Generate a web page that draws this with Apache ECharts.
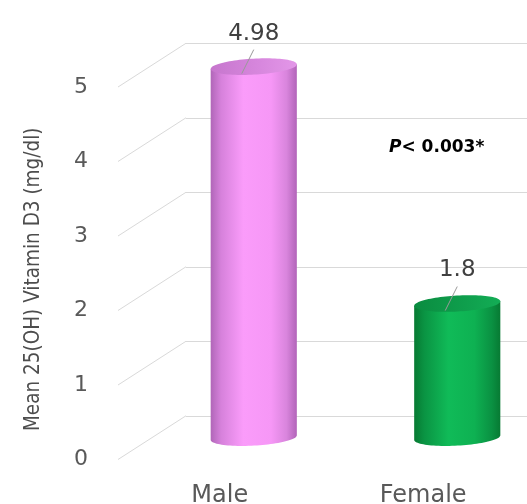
<!DOCTYPE html>
<html>
<head>
<meta charset="utf-8">
<script src="https://cdn.jsdelivr.net/npm/echarts@6/dist/echarts.min.js"></script>
<style>
  html, body { margin: 0; padding: 0; background: #ffffff; }
  #chart { width: 527px; height: 504px; }
</style>
</head>
<body>
<div id="chart"></div>
<script>
// Mean serum 25(OH) vitamin D3 by sex
const categories = ['Male', 'Female'];
const meanValues = [4.98, 1.8];
const yTicks = [0, 1, 2, 3, 4, 5];
const pValueText = '< 0.003*';

// Cylinder shading per category (left edge -> right edge)
const bodyStops = [
  [['#b066b8', 0], ['#d681db', 0.12], ['#fa9cfa', 0.38], ['#f697f6', 0.7], ['#d985dd', 0.88], ['#b264b9', 1]],
  [['#077a33', 0], ['#0a9443', 0.12], ['#10bb58', 0.4], ['#0eb152', 0.7], ['#0a9142', 0.9], ['#077a33', 1]]
];
const topStops = [
  [['#c676cd', 0], ['#d888de', 0.6], ['#e397e8', 1]],
  [['#0a8c40', 0], ['#0f9f4d', 0.6], ['#13ad55', 1]]
];

// 3D layout: front plane, mid plane (bars) and back wall
const FRONT = { left: 118, top: 87, width: 407, height: 372.5 };
const DEPTH_X = 68, DEPTH_Y = 43.75;

const grayText = '#595959';
const gridGray = '#d9d9d9';

function grad(stops) {
  return {
    type: 'linear', x: 0, y: 0, x2: 1, y2: 0,
    colorStops: stops.map(s => ({ color: s[0], offset: s[1] }))
  };
}

function renderDepthLine(params, api) {
  const v = api.value(0);
  const y = api.coord([0, v])[1];
  const x0 = params.coordSys.x;
  return {
    type: 'line',
    shape: { x1: x0, y1: y, x2: x0 + DEPTH_X, y2: y - DEPTH_Y },
    style: { stroke: gridGray, lineWidth: 1 }
  };
}

function renderCylinder(params, api) {
  const idx = api.value(0);
  const val = api.value(1);
  const base = api.coord([idx, 0]);
  const top = api.coord([idx, val]);
  const cx = base[0];
  const rx = api.size([1, 0])[0] * 0.212;
  const ry = 8;
  const tilt = -0.055;
  const ct = Math.cos(tilt), st = Math.sin(tilt);
  const pt = (cy, t) => [
    cx + rx * Math.cos(t) * ct - ry * Math.sin(t) * st,
    cy + rx * Math.cos(t) * st + ry * Math.sin(t) * ct
  ];
  const N = 48;
  const body = [pt(top[1], Math.PI)];
  for (let k = 0; k <= N; k++) body.push(pt(base[1], Math.PI - k * Math.PI / N));
  body.push(pt(top[1], 0));
  const cap = [];
  for (let k = 0; k < N * 2; k++) cap.push(pt(top[1], k * Math.PI / N));

  return {
    type: 'group',
    children: [
      { type: 'polygon', shape: { points: body }, style: { fill: grad(bodyStops[idx]) } },
      { type: 'polygon', shape: { points: cap }, style: { fill: grad(topStops[idx]) } },
      {
        type: 'line',
        shape: { x1: cx, y1: top[1] - 17, x2: cx - 12, y2: top[1] + 7 },
        style: { stroke: '#9a9a9a', lineWidth: 1 }
      },
      {
        type: 'text',
        style: {
          x: cx, y: top[1] - 33,
          text: String(val),
          fill: '#404040',
          font: '23px "DejaVu Sans", sans-serif',
          align: 'center', verticalAlign: 'middle'
        }
      }
    ]
  };
}

const chart = echarts.init(document.getElementById('chart'), null, { renderer: 'canvas' });

const gridFront = { left: FRONT.left, top: FRONT.top, width: FRONT.width, height: FRONT.height, outerBoundsMode: 'none' };
const gridMid = { left: FRONT.left + DEPTH_X / 2, top: FRONT.top - DEPTH_Y / 2, width: FRONT.width, height: FRONT.height, outerBoundsMode: 'none' };
const gridBack = { left: FRONT.left + DEPTH_X, top: FRONT.top - DEPTH_Y, right: 0, height: FRONT.height, outerBoundsMode: 'none' };

const yBase = { type: 'value', min: 0, max: 5, interval: 1 };

chart.setOption({
  animation: false,
  backgroundColor: '#ffffff',
  grid: [gridFront, gridMid, gridBack],
  xAxis: [
    {
      gridIndex: 0, type: 'category', data: categories,
      axisLine: { show: false }, axisTick: { show: false },
      axisLabel: { color: grayText, fontSize: 24, fontFamily: 'DejaVu Sans', margin: 24 }
    },
    { gridIndex: 1, type: 'category', data: categories, show: false },
    { gridIndex: 2, type: 'value', show: false }
  ],
  yAxis: [
    Object.assign({}, yBase, {
      gridIndex: 0,
      axisLine: { show: false }, axisTick: { show: false }, splitLine: { show: false },
      axisLabel: { color: grayText, fontSize: 22, fontFamily: 'DejaVu Sans', margin: 30, padding: [6, 0, 0, 0] },
      name: 'Mean 25(OH) Vitamin D3 (mg/dl)',
      nameLocation: 'middle', nameRotate: 90, nameGap: 74,
      nameTextStyle: {
        color: '#4d4d4d', fontSize: 20.5,
        fontFamily: '"Liberation Sans Narrow", "DejaVu Sans Condensed", sans-serif',
        padding: [0, 12, 0, 0]
      }
    }),
    Object.assign({}, yBase, { gridIndex: 1, show: false }),
    Object.assign({}, yBase, {
      gridIndex: 2,
      axisLine: { show: false }, axisTick: { show: false }, axisLabel: { show: false },
      splitLine: { show: true, lineStyle: { color: gridGray, width: 1 } }
    })
  ],
  graphic: [{
    type: 'text', left: 389, top: 139,
    style: {
      text: '{i|P}{b|' + pValueText + '}',
      rich: {
        i: { fontStyle: 'italic', fontWeight: 'bold', fontSize: 17, fontFamily: 'DejaVu Sans', fill: '#000000' },
        b: { fontWeight: 'bold', fontSize: 17, fontFamily: 'DejaVu Sans', fill: '#000000' }
      }
    }
  }],
  series: [
    {
      type: 'custom', xAxisIndex: 0, yAxisIndex: 0, z: 1,
      data: yTicks.map(v => [v]),
      encode: { y: 0 },
      renderItem: renderDepthLine,
      silent: true
    },
    {
      type: 'custom', xAxisIndex: 1, yAxisIndex: 1, z: 5,
      data: meanValues.map((v, i) => [i, v]),
      encode: { x: 0, y: 1 },
      renderItem: renderCylinder
    }
  ]
});
</script>
</body>
</html>
